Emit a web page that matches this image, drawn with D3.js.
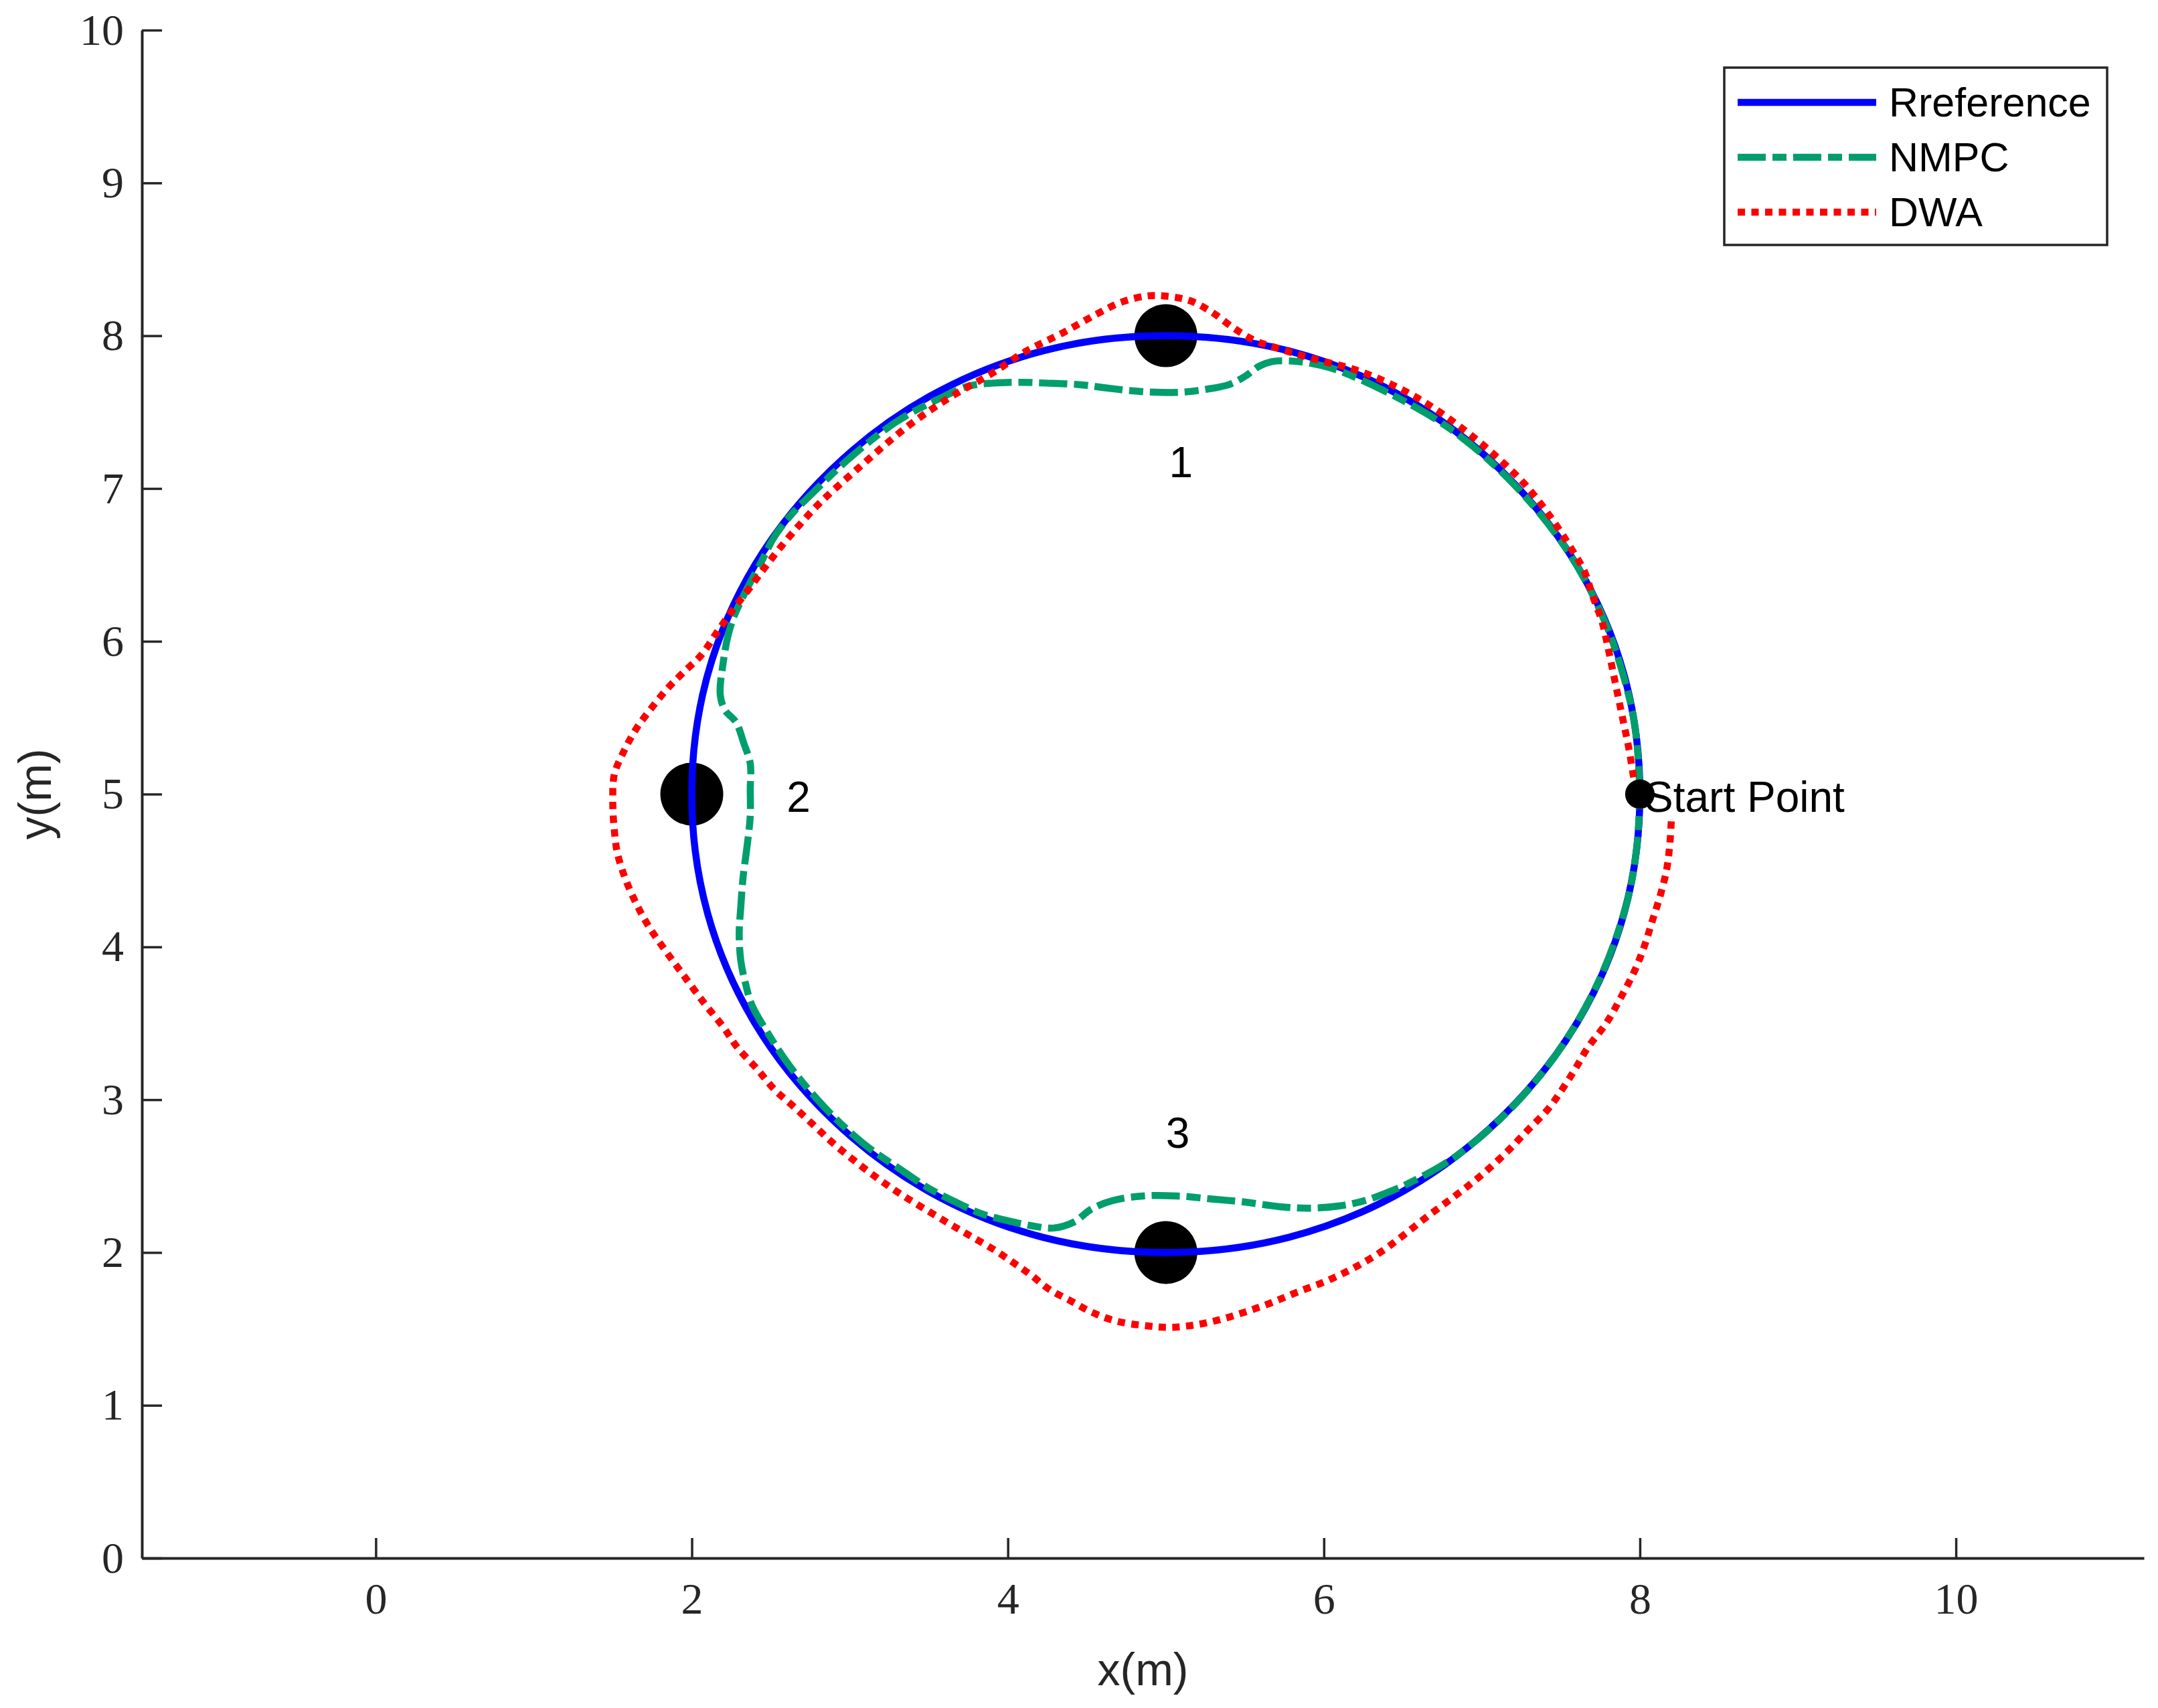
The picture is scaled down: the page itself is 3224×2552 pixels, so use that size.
<!DOCTYPE html>
<html>
<head>
<meta charset="utf-8">
<script src="https://cdn.jsdelivr.net/npm/d3@7"></script>
<style>
  body { margin: 0; background: #fff; }
</style>
</head>
<body>
<div class="chart"></div>
<script>
// reference circle
var refX = [8, 7.90, 7.60, 7.12, 6.50, 5.78, 5, 4.22, 3.50, 2.88, 2.40, 2.10,
            2, 2.10, 2.40, 2.88, 3.50, 4.22, 5, 5.78, 6.50, 7.12, 7.60, 7.90];
var refY = [5, 5.78, 6.50, 7.12, 7.60, 7.90, 8, 7.90, 7.60, 7.12, 6.50, 5.78,
            5, 4.22, 3.50, 2.88, 2.40, 2.10, 2, 2.10, 2.40, 2.88, 3.50, 4.22];

// NMPC trajectory
var nmpcX = [8.00, 7.98, 7.94, 7.79, 7.55, 7.20, 6.80, 6.40, 6.07, 5.91, 5.78, 5.67, 5.59, 5.51,
             5.40, 5.26, 5.10, 4.94, 4.78, 4.61, 4.45, 4.24, 4.07, 3.91, 3.75, 3.59, 3.30, 3.00,
             2.735, 2.63, 2.52, 2.44, 2.35, 2.27, 2.23, 2.20, 2.18, 2.21, 2.28, 2.33, 2.37, 2.37,
             2.37, 2.35, 2.325, 2.31, 2.30, 2.31, 2.34, 2.38, 2.47, 2.62, 2.85, 3.09, 3.34, 3.50,
             3.67, 3.83, 3.99, 4.15, 4.29, 4.42, 4.53, 4.665, 4.855, 5.07, 5.29, 5.50, 5.72, 5.91,
             6.10, 6.26, 6.42, 6.58, 6.85, 7.20, 7.50, 7.75, 7.92, 7.98, 8.00];
var nmpcY = [5.00, 5.35, 5.60, 6.10, 6.58, 7.03, 7.39, 7.63, 7.78, 7.82, 7.835, 7.83, 7.80, 7.74,
             7.68, 7.65, 7.63, 7.63, 7.64, 7.66, 7.68, 7.69, 7.695, 7.69, 7.67, 7.60, 7.44, 7.20,
             6.94, 6.83, 6.68, 6.52, 6.345, 6.17, 6.04, 5.87, 5.65, 5.55, 5.47, 5.33, 5.20, 5.03,
             4.86, 4.66, 4.46, 4.26, 4.09, 3.91, 3.76, 3.62, 3.455, 3.22, 2.94, 2.71, 2.53, 2.42,
             2.33, 2.255, 2.21, 2.175, 2.16, 2.20, 2.285, 2.34, 2.37, 2.37, 2.35, 2.33, 2.30, 2.29,
             2.305, 2.34, 2.40, 2.475, 2.64, 2.96, 3.34, 3.80, 4.30, 4.65, 5.00];

// DWA trajectory
var dwaX = [7.96, 7.93, 7.89, 7.84, 7.80, 7.76, 7.70, 7.65, 7.57, 7.43, 7.27, 7.08, 6.88, 6.66,
            6.43, 6.19, 5.93, 5.70, 5.56, 5.43, 5.29, 5.15, 4.99, 4.88, 4.72, 4.56, 4.35, 4.10,
            3.91, 3.64, 3.37, 3.05, 2.855, 2.79, 2.68, 2.565, 2.46, 2.36, 2.255, 2.16, 2.06, 1.94,
            1.845, 1.75, 1.65, 1.57, 1.51, 1.50, 1.51, 1.53, 1.58, 1.65, 1.73, 1.83, 1.94, 2.08,
            2.20, 2.29, 2.41, 2.52, 2.65, 2.78, 2.90, 3.03, 3.17, 3.31, 3.45, 3.61, 3.76, 3.91,
            4.04, 4.15, 4.26, 4.395, 4.53, 4.69, 4.88, 5.02, 5.18, 5.34, 5.50, 5.665, 5.83, 6.02,
            6.20, 6.37, 6.50, 6.66, 6.83, 6.99, 7.15, 7.285, 7.42, 7.51, 7.59, 7.67, 7.79, 7.88,
            7.965, 8.03, 8.08, 8.13, 8.17, 8.19, 8.20];
var dwaY = [5.11, 5.30, 5.50, 5.75, 5.95, 6.13, 6.30, 6.455, 6.60, 6.82, 7.03, 7.22, 7.39, 7.55,
            7.68, 7.78, 7.85, 7.92, 7.97, 8.05, 8.155, 8.23, 8.26, 8.26, 8.22, 8.14, 8.02, 7.89,
            7.76, 7.60, 7.41, 7.13, 6.95, 6.885, 6.76, 6.62, 6.48, 6.34, 6.20, 6.06, 5.91, 5.79,
            5.69, 5.57, 5.43, 5.28, 5.13, 4.95, 4.76, 4.61, 4.445, 4.28, 4.13, 3.98, 3.825, 3.63,
            3.475, 3.34, 3.205, 3.07, 2.95, 2.825, 2.71, 2.60, 2.49, 2.39, 2.30, 2.20, 2.11, 2.02,
            1.93, 1.85, 1.76, 1.685, 1.61, 1.55, 1.52, 1.51, 1.525, 1.56, 1.61, 1.67, 1.74, 1.815,
            1.905, 2.01, 2.11, 2.24, 2.37, 2.50, 2.65, 2.795, 2.94, 3.07, 3.20, 3.34, 3.505, 3.67,
            3.84, 4.01, 4.175, 4.34, 4.51, 4.68, 4.85];

var obstacleX = [5, 2, 5];
var obstacleY = [8, 5, 2];
var startX = 8, startY = 5;

var noteText = ["1", "2", "3", "Start Point"];
var noteX = [5.02, 2.6, 5.0, 8.03];
var noteY = [7.17, 4.98, 2.78, 4.98];

var xTicks = [0, 2, 4, 6, 8, 10];
var yTicks = [0, 1, 2, 3, 4, 5, 6, 7, 8, 9, 10];
var legendNames = ["Rreference", "NMPC", "DWA"];

var svgWidth = 3224;
var svgHeight = 2552;
var axisColor = "#262626";

var svg = d3.select(".chart")
  .append("svg")
  .attr("width", svgWidth)
  .attr("height", svgHeight)
  .style("display", "block");

svg.append("rect").attr("width", svgWidth).attr("height", svgHeight).attr("fill", "#fff");

var xScale = d3.scaleLinear().domain([-1.48, 11.19]).range([212, 3203]);
var yScale = d3.scaleLinear().domain([0, 10]).range([2328, 45]);

// axes (ticks point inward, box off)
var xAxis = d3.axisBottom(xScale).tickValues(xTicks).tickSizeInner(-30).tickSizeOuter(0).tickPadding(36);
var yAxis = d3.axisLeft(yScale).tickValues(yTicks).tickSizeInner(-30).tickSizeOuter(0).tickPadding(27);

var gx = svg.append("g").attr("transform", "translate(0," + 2328 + ")").call(xAxis);
var gy = svg.append("g").attr("transform", "translate(" + 212 + ",0)").call(yAxis);

[gx, gy].forEach(function(g) {
  g.select(".domain").attr("stroke", axisColor).attr("stroke-width", 4);
  g.selectAll(".tick line").attr("stroke", axisColor).attr("stroke-width", 3.5);
  g.selectAll(".tick text")
    .attr("fill", axisColor)
    .style("font-family", "'Liberation Serif', 'DejaVu Serif', serif")
    .style("font-size", "66px");
});

// axis titles
svg.append("text")
  .attr("x", (212 + 3203) / 2)
  .attr("y", 2494)
  .attr("text-anchor", "middle")
  .attr("dominant-baseline", "central")
  .style("font", "68px 'Liberation Sans', Arial, sans-serif")
  .attr("fill", axisColor)
  .text("x(m)");

svg.append("text")
  .attr("transform", "translate(52," + (45 + 2328) / 2 + ") rotate(-90)")
  .attr("text-anchor", "middle")
  .attr("dominant-baseline", "central")
  .style("font", "68px 'Liberation Sans', Arial, sans-serif")
  .attr("fill", axisColor)
  .text("y(m)");

// obstacles
svg.append("g").selectAll("circle")
  .data(d3.zip(obstacleX, obstacleY))
  .enter()
  .append("circle")
  .attr("cx", d => xScale(d[0]))
  .attr("cy", d => yScale(d[1]))
  .attr("r", 47)
  .attr("fill", "#000");

var refLine = d3.line()
  .x(d => xScale(d[0]))
  .y(d => yScale(d[1]))
  .curve(d3.curveCatmullRomClosed.alpha(0.5));

var pathLine = d3.line()
  .x(d => xScale(d[0]))
  .y(d => yScale(d[1]))
  .curve(d3.curveCatmullRom.alpha(0.5));

var series = [
  { name: legendNames[0], pts: d3.zip(refX, refY), color: "#0000ff", dash: null, gen: refLine },
  { name: legendNames[1], pts: d3.zip(nmpcX, nmpcY), color: "#009e6c", dash: "42 10 21 10", gen: pathLine },
  { name: legendNames[2], pts: d3.zip(dwaX, dwaY), color: "#ff0000", dash: "11 9.5", gen: pathLine }
];

series.forEach(function(s) {
  svg.append("path")
    .attr("d", s.gen(s.pts))
    .attr("fill", "none")
    .attr("stroke", s.color)
    .attr("stroke-width", 10.5)
    .attr("stroke-dasharray", s.dash)
    .attr("stroke-linecap", "butt")
    .attr("stroke-linejoin", "round");
});

// start point
svg.append("circle")
  .attr("cx", xScale(startX))
  .attr("cy", yScale(startY))
  .attr("r", 22)
  .attr("fill", "#000");

// annotations
svg.append("g").selectAll("text")
  .data(d3.range(noteText.length))
  .enter()
  .append("text")
  .attr("x", i => xScale(noteX[i]))
  .attr("y", i => yScale(noteY[i]))
  .attr("dominant-baseline", "central")
  .style("font", "64px 'Liberation Sans', Arial, sans-serif")
  .attr("fill", "#000")
  .text(i => noteText[i]);

// legend
var legend = svg.append("g");
legend.append("rect")
  .attr("x", 2576)
  .attr("y", 101)
  .attr("width", 3148 - 2576)
  .attr("height", 366 - 101)
  .attr("fill", "#fff")
  .attr("stroke", axisColor)
  .attr("stroke-width", 3.5);

var rowY = [153, 235, 317];
series.forEach(function(s, i) {
  legend.append("line")
    .attr("x1", 2596)
    .attr("x2", 2803)
    .attr("y1", rowY[i])
    .attr("y2", rowY[i])
    .attr("stroke", s.color)
    .attr("stroke-width", 10.5)
    .attr("stroke-dasharray", s.dash);
  legend.append("text")
    .attr("x", 2822)
    .attr("y", rowY[i])
    .attr("dominant-baseline", "central")
    .style("font", "61px 'Liberation Sans', Arial, sans-serif")
    .attr("fill", "#000")
    .text(s.name);
});
</script>
</body>
</html>
